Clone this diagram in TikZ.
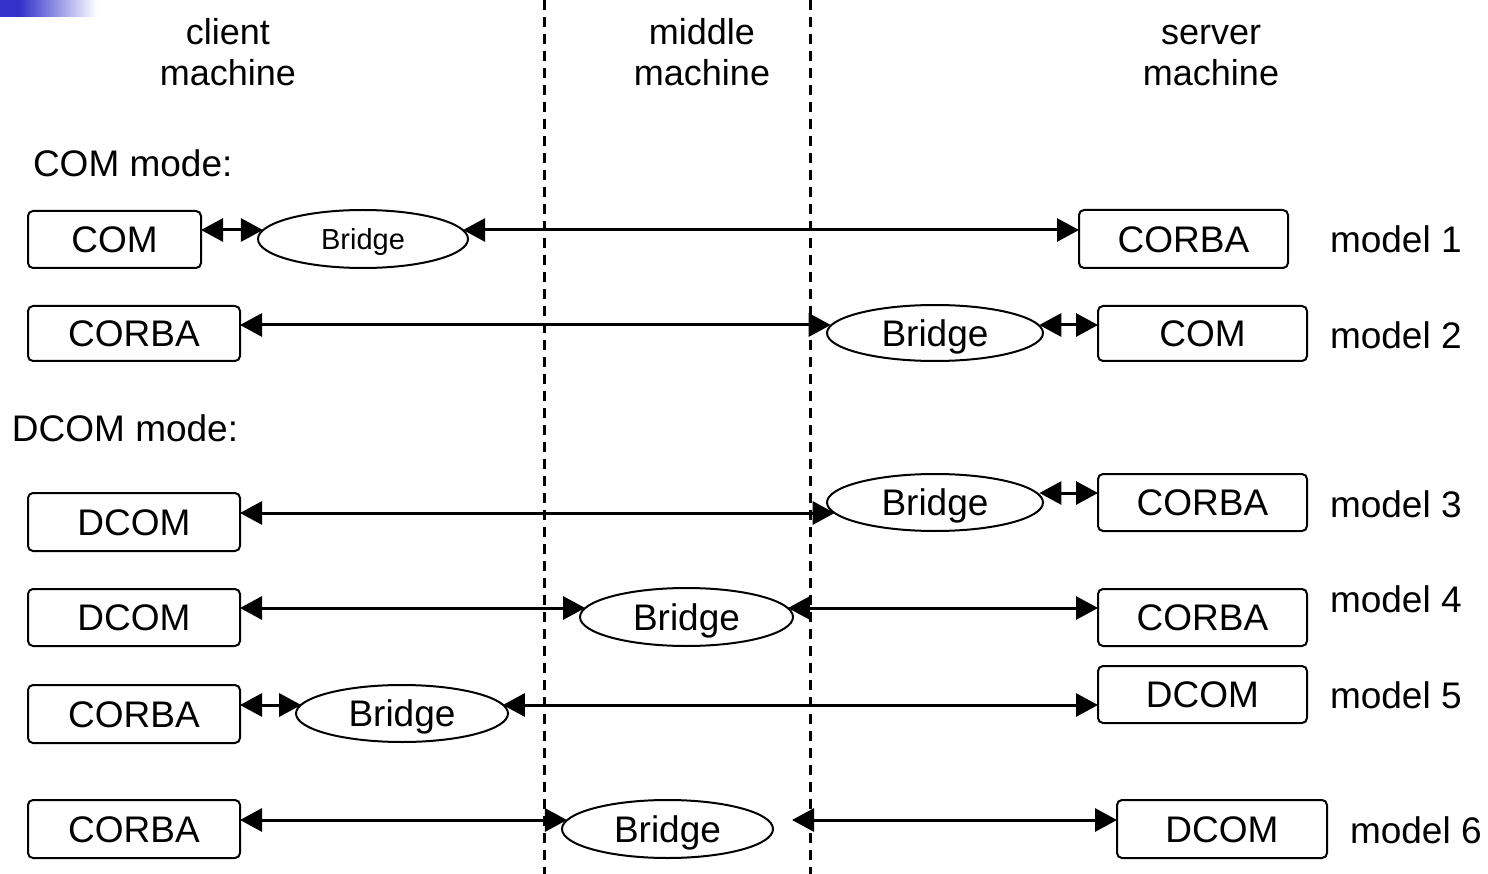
\documentclass[tikz,border=0pt]{standalone}
\usepackage{fontspec}
\setmainfont{Liberation Sans}
\usetikzlibrary{arrows.meta,shapes.geometric}
\definecolor{barblue}{RGB}{51,51,204}

\begin{document}
\begin{tikzpicture}[x=1pt,y=-1pt,
  every node/.style={inner sep=0pt,outer sep=0pt},
  head/.style={font=\fontsize{36}{44}\selectfont,anchor=base},
  modelabel/.style={font=\fontsize{37}{44}\selectfont,anchor=west,text height=26.5pt,text depth=0pt},
  modeltag/.style={font=\fontsize{37}{44}\selectfont,anchor=west,text height=26.5pt,text depth=0pt},
  comp/.style={draw,line width=2pt,rounded corners=5pt,minimum height=57pt,
    font=\fontsize{37}{44}\selectfont,text height=26.5pt,text depth=0pt},
  bridge/.style={draw,ellipse,line width=2pt,minimum width=212pt,minimum height=57pt,
    font=\fontsize{37}{44}\selectfont,text height=26.5pt,text depth=0pt},
  smallbridge/.style={bridge,font=\fontsize{29}{34}\selectfont,text height=20.8pt},
  link/.style={line width=3pt,{Triangle[length=22pt,width=23pt]}-{Triangle[length=22pt,width=23pt]}},
  divider/.style={line width=3pt,dash pattern=on 10pt off 7pt}
]
\useasboundingbox (0,0) rectangle (1488,874);

% title bar accent
\fill[barblue] (0,0) rectangle (20,17);
\shade[left color=barblue,right color=white] (20,0) rectangle (97,17);

% machine boundaries
\coordinate (d1t) at (544,0);   \coordinate (d1b) at (544,874);
\coordinate (d2t) at (810,0);   \coordinate (d2b) at (810,874);
\draw[divider] (d1t) -- (d1b);
\draw[divider] (d2t) -- (d2b);

% column headings
\node[head] (hc1) at (228,45) {client};
\node[head] (hc2) at (228,86) {machine};
\node[head] (hm1) at (702,45) {middle};
\node[head] (hm2) at (702,86) {machine};
\node[head] (hs1) at (1211,45) {server};
\node[head] (hs2) at (1211,86) {machine};

% section labels
\node[modelabel] (comlbl)  at (33,163) {COM mode:};
\node[modelabel] (dcomlbl) at (12,428) {DCOM mode:};

% ---- model 1
\node[comp,minimum width=173pt] (c1) at (114.5,239.5) {COM};
\node[smallbridge,minimum width=210pt,minimum height=58pt] (b1) at (363,239) {Bridge};
\node[comp,minimum width=209pt,minimum height=58pt] (s1) at (1183.5,239) {CORBA};
\node[modeltag] (m1) at (1330,239) {model 1};
\coordinate (l1) at (0,230);
\draw[link] (c1.east |- l1) -- (b1.175 |- l1);
\draw[link] (b1.5 |- l1) -- (s1.west |- l1);

% ---- model 2
\node[comp,minimum width=212pt,minimum height=55pt] (c2) at (134,333.5) {CORBA};
\node[bridge,minimum width=216pt,minimum height=56pt] (b2) at (935,333) {Bridge};
\node[comp,minimum width=209pt,minimum height=55pt] (s2) at (1202.5,333.5) {COM};
\node[modeltag] (m2) at (1330,335) {model 2};
\coordinate (l2) at (0,325);
\draw[link] (c2.east |- l2) -- (b2.176 |- l2);
\draw[link] (b2.4 |- l2) -- (s2.west |- l2);

% ---- model 3
\node[comp,minimum width=212pt,minimum height=58pt] (c3) at (134,522) {DCOM};
\node[bridge,minimum width=216pt,minimum height=57pt] (b3) at (935,502.5) {Bridge};
\node[comp,minimum width=209pt,minimum height=57pt] (s3) at (1202.5,502.5) {CORBA};
\node[modeltag] (m3) at (1330,504) {model 3};
\coordinate (l3a) at (0,513);
\coordinate (l3b) at (0,493);
\draw[link] (c3.east |- l3a) -- (b3.186 |- l3a);
\draw[link] (b3.4 |- l3b) -- (s3.west |- l3b);

% ---- model 4
\node[comp,minimum width=212pt,minimum height=57pt] (c4) at (134,617.5) {DCOM};
\node[bridge,minimum width=213pt,minimum height=58pt] (b4) at (686.5,617) {Bridge};
\node[comp,minimum width=209pt,minimum height=57pt] (s4) at (1202.5,617.5) {CORBA};
\node[modeltag] (m4) at (1330,599) {model 4};
\coordinate (l4) at (0,608);
\draw[link] (c4.east |- l4) -- (b4.175 |- l4);
\draw[link] (b4.5 |- l4) -- (s4.west |- l4);

% ---- model 5
\node[comp,minimum width=212pt,minimum height=58pt] (c5) at (134,714) {CORBA};
\node[bridge,minimum width=212pt,minimum height=57pt] (b5) at (402,713.5) {Bridge};
\node[comp,minimum width=209pt,minimum height=57pt] (s5) at (1202.5,694.5) {DCOM};
\node[modeltag] (m5) at (1330,695) {model 5};
\coordinate (l5) at (0,705);
\draw[link] (c5.east |- l5) -- (b5.175 |- l5);
\draw[link] (b5.5 |- l5) -- (s5.west |- l5);

% ---- model 6
\node[comp,minimum width=212pt,minimum height=58pt] (c6) at (134,829) {CORBA};
\node[bridge,minimum width=211pt,minimum height=58pt] (b6) at (667.5,829) {Bridge};
\node[comp,minimum width=210pt,minimum height=58pt] (s6) at (1222,829) {DCOM};
\node[modeltag] (m6) at (1350,830) {model 6};
\coordinate (l6) at (0,820);
\coordinate (e6) at (792,820);
\draw[link] (c6.east |- l6) -- (b6.175 |- l6);
\draw[link] (e6) -- (s6.west |- l6);
\end{tikzpicture}
\end{document}
